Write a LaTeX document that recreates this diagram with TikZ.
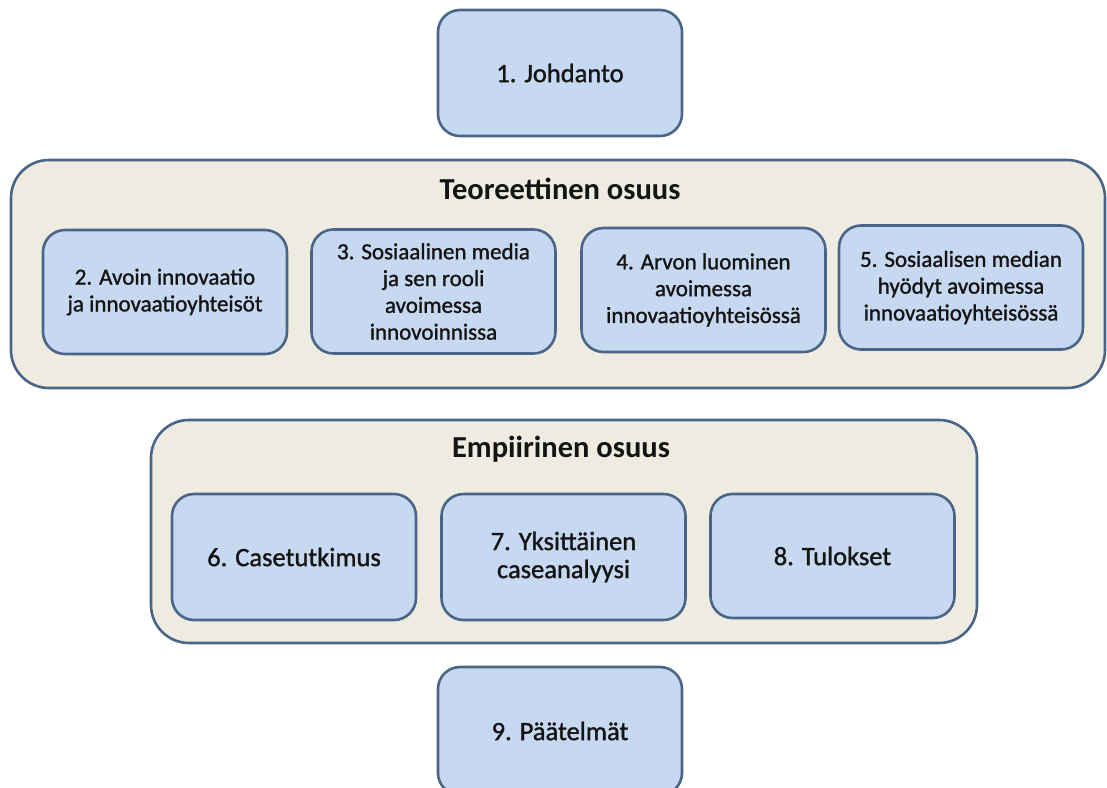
\documentclass[tikz,border=0pt]{standalone}
\usepackage{fontspec}
\setmainfont{Carlito}
\newfontfamily\heavyfont[FakeBold=1.2]{Carlito}
\definecolor{boxfill}{HTML}{C6D9F1}
\definecolor{boxline}{HTML}{4A6587}
\definecolor{outerfill}{HTML}{EEECE1}
\begin{document}
\begin{tikzpicture}[x=1pt,y=-1pt,
  chapter/.style={draw=boxline, fill=boxfill, line width=2.6pt, rounded corners=22pt,
    minimum width=244pt, minimum height=124pt, align=center, inner sep=0pt,
    font=\heavyfont\fontsize{26.5}{28}\selectfont, text=black!92},
  smallchapter/.style={chapter, font=\heavyfont\fontsize{23}{26.8}\selectfont},
  part/.style={draw=boxline, fill=outerfill, line width=2.6pt, rounded corners=38pt, inner sep=0pt},
  parttitle/.style={font=\fontsize{30.5}{34}\selectfont\bfseries, text=black!92, inner sep=0pt}]
\useasboundingbox (0,0) rectangle (1107,787);
\fill[white] (0,0) rectangle (1107,787);
% 1
\node[chapter, minimum height=126pt] (c1) at (560,73) {1. Johdanto};
% Teoreettinen osuus
\node[part, minimum width=1094pt, minimum height=228pt] (teo) at (558,274) {};
\node[parttitle] (teot) at (560,189) {Teoreettinen osuus};
\node[smallchapter] (c2) at (165,292) {2. Avoin innovaatio\\ja innovaatioyhteisöt};
\node[smallchapter] (c3) at (433.5,291.5) {3. Sosiaalinen media\\ja sen rooli\\avoimessa\\innovoinnissa};
\node[smallchapter] (c4) at (703.5,290) {4. Arvon luominen\\avoimessa\\innovaatioyhteisössä};
\node[smallchapter] (c5) at (961,287.5) {5. Sosiaalisen median\\hyödyt avoimessa\\innovaatioyhteisössä};
% Empiirinen osuus
\node[part, minimum width=826pt, minimum height=223pt] (emp) at (564,531.5) {};
\node[parttitle] (empt) at (561,449) {Empiirinen osuus};
\node[chapter, minimum height=126pt] (c6) at (294,557) {6. Casetutkimus};
\node[chapter, minimum height=126pt] (c7) at (563.5,557) {7. Yksittäinen\\caseanalyysi};
\node[chapter] (c8) at (832.5,556) {8. Tulokset};
% 9
\node[chapter, minimum height=128pt] (c9) at (560,731) {9. Päätelmät};
\end{tikzpicture}
\end{document}
